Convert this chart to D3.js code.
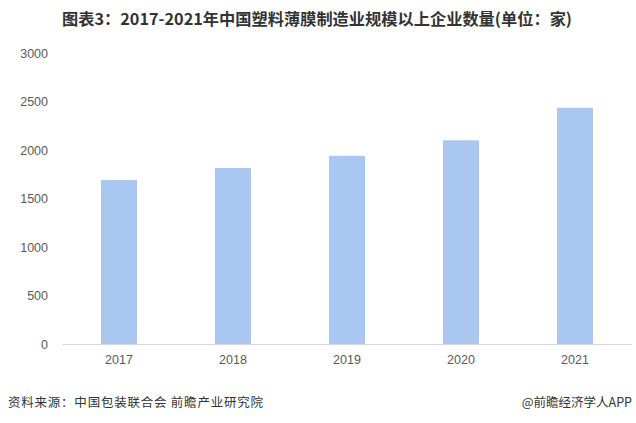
<!DOCTYPE html>
<html><head><meta charset="utf-8">
<script src="https://cdn.jsdelivr.net/npm/d3@7"></script>
<style>body{margin:0;background:#fff}svg{display:block}</style>
</head><body>
<svg id="c" width="636" height="423"></svg>
<script>
const categories = ["2017","2018","2019","2020","2021"];
const values = [1690, 1815, 1940, 2100, 2435];
const yTicks = [0, 500, 1000, 1500, 2000, 2500, 3000];
const title = "图表3：2017-2021年中国塑料薄膜制造业规模以上企业数量(单位：家)";
const source = "资料来源：中国包装联合会 前瞻产业研究院";
const credit = "@前瞻经济学人APP";

const svg = d3.select("#c");
const cjk = "'Noto Sans CJK SC','Noto Sans',sans-serif";
const x = d3.scaleBand().domain(categories).range([62, 632]).paddingInner(0.684).paddingOuter(0.342);
const y = d3.scaleLinear().domain([0, 3000]).range([344, 53]);

svg.append("text").attr("x", 317).attr("y", 25).attr("text-anchor", "middle")
  .attr("font-family", cjk).attr("font-weight", "bold").attr("font-size", 16)
  .attr("fill", "#333").attr("textLength", 510).attr("lengthAdjust", "spacingAndGlyphs").text(title);

const ya = svg.append("g").attr("transform", "translate(48,0)")
  .call(d3.axisLeft(y).tickValues(yTicks).tickFormat(d3.format("d")).tickSize(0).tickPadding(0));
ya.select(".domain").remove();
ya.selectAll("text").attr("font-family", "'Liberation Sans',Arial,sans-serif").attr("font-size", 12.5).attr("fill", "#595959");

svg.selectAll("rect.bar").data(values).enter().append("rect").attr("class", "bar")
  .attr("x", (d, i) => x(categories[i])).attr("width", x.bandwidth())
  .attr("y", d => y(d)).attr("height", d => y(0) - y(d)).attr("fill", "#a9c7f1");

const xa = svg.append("g").attr("transform", "translate(0,344)")
  .call(d3.axisBottom(x).tickSize(0).tickPadding(11));
xa.select(".domain").attr("stroke", "#d9d9d9").attr("d", "M62,0.5H632");
xa.selectAll("text").attr("font-family", "'Liberation Sans',Arial,sans-serif").attr("font-size", 12.5).attr("fill", "#595959");

svg.append("text").attr("x", 8).attr("y", 407).attr("font-family", cjk).attr("font-size", 12.5)
  .attr("fill", "#333").attr("textLength", 255).text(source);
svg.append("text").attr("x", 632).attr("y", 407).attr("text-anchor", "end").attr("font-family", cjk).attr("font-size", 12.5)
  .attr("fill", "#333").text(credit);
</script>
</body></html>
